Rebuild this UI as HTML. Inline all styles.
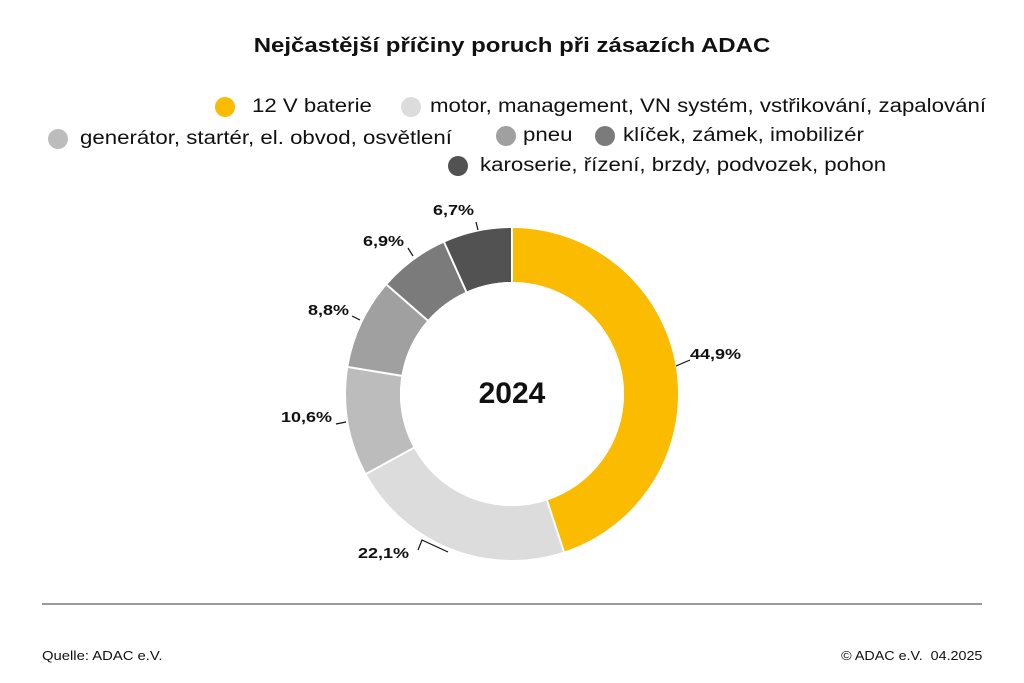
<!DOCTYPE html>
<html><head><meta charset="utf-8"><style>
body{margin:0;width:1024px;height:683px;background:#fff;position:relative;overflow:hidden;font-family:"Liberation Sans",sans-serif;color:#111}
.t{position:absolute;white-space:nowrap;transform-origin:0 0}
.d{position:absolute;width:20px;height:20px;border-radius:50%}
.lg{font-size:19px;transform:scaleX(1.17)}
.p{font-size:15px;font-weight:bold;transform:scaleX(1.2)}
</style></head><body>
<div class="t" style="left:0;width:1024px;text-align:center;top:35px;font-size:20px;font-weight:bold;transform:scaleX(1.2);transform-origin:512px 0">Nejčastější příčiny poruch při zásazích ADAC</div>
<div class="d" style="left:215px;top:97px;background:#fbbb00"></div><div class="t lg" style="left:252px;top:96px">12 V baterie</div>
<div class="d" style="left:401px;top:97px;background:#dcdcdc"></div><div class="t lg" style="left:430px;top:96px">motor, management, VN systém, vstřikování, zapalování</div>
<div class="d" style="left:48px;top:129px;background:#bcbcbc"></div><div class="t lg" style="left:80px;top:128px">generátor, startér, el. obvod, osvětlení</div>
<div class="d" style="left:496px;top:126px;background:#a0a0a0"></div><div class="t lg" style="left:523px;top:125px">pneu</div>
<div class="d" style="left:595px;top:126px;background:#7b7b7b"></div><div class="t lg" style="left:623px;top:125px">klíček, zámek, imobilizér</div>
<div class="d" style="left:448px;top:156px;background:#525252"></div><div class="t lg" style="left:480px;top:155px">karoserie, řízení, brzdy, podvozek, pohon</div>
<svg style="position:absolute;left:0;top:0" width="1024" height="683">
<g transform="rotate(-90 512 394)" fill="none" stroke-width="54">
<circle cx="512" cy="394" r="139" stroke="#fbbb00" stroke-dasharray="392.2 2000"/>
<circle cx="512" cy="394" r="139" stroke="#dcdcdc" stroke-dasharray="0 392.2 193 2000"/>
<circle cx="512" cy="394" r="139" stroke="#bcbcbc" stroke-dasharray="0 585.2 92.6 2000"/>
<circle cx="512" cy="394" r="139" stroke="#a0a0a0" stroke-dasharray="0 677.8 76.9 2000"/>
<circle cx="512" cy="394" r="139" stroke="#7b7b7b" stroke-dasharray="0 754.7 60.3 2000"/>
<circle cx="512" cy="394" r="139" stroke="#525252" stroke-dasharray="0 815 58.5 2000"/>
</g>
<g stroke="#fff" stroke-width="2">
<line x1="512" y1="394" x2="512" y2="226"/>
<line x1="512" y1="394" x2="564" y2="552"/>
<line x1="512" y1="394" x2="366" y2="474"/>
<line x1="512" y1="394" x2="348" y2="367"/>
<line x1="512" y1="394" x2="387" y2="285"/>
<line x1="512" y1="394" x2="444" y2="242"/>
</g>
<circle cx="512" cy="394" r="112" fill="#fff"/>
<g stroke="#111" stroke-width="1.2" fill="none">
<path d="M676 366 L690 360"/>
<path d="M476 222 L478 230"/>
<path d="M408 248 L413 256"/>
<path d="M352 316 L360 320"/>
<path d="M336 424 L346 422"/>
<path d="M418 550 L422 540 L448 552"/>
</g>
<line x1="42" y1="604" x2="982" y2="604" stroke="#9a9a9a" stroke-width="2"/>
</svg>
<div class="t" style="left:0;width:1024px;text-align:center;top:377px;font-size:30px;font-weight:bold">2024</div>
<div class="t p" style="left:690px;top:346px">44,9%</div>
<div class="t p" style="left:433px;top:202px">6,7%</div>
<div class="t p" style="left:363px;top:233px">6,9%</div>
<div class="t p" style="left:308px;top:302px">8,8%</div>
<div class="t p" style="left:281px;top:409px">10,6%</div>
<div class="t p" style="left:358px;top:545px">22,1%</div>
<div class="t" style="left:42px;top:648px;font-size:13px;transform:scaleX(1.14)">Quelle: ADAC e.V.</div>
<div class="t" style="right:42px;top:648px;font-size:13px;transform:scaleX(1.1);transform-origin:100% 0">© ADAC e.V.&nbsp; 04.2025</div>
</body></html>
